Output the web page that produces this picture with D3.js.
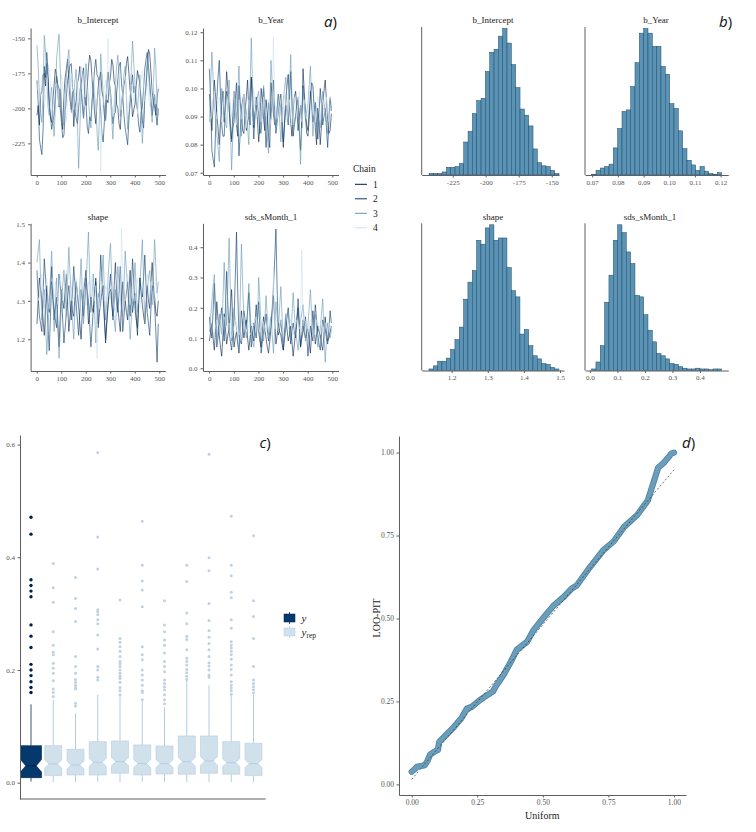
<!DOCTYPE html>
<html><head><meta charset="utf-8">
<script src="https://cdn.jsdelivr.net/npm/d3@7"></script>
<style>
body{margin:0;background:#fff}
svg text{font-family:"Liberation Serif","DejaVu Serif",serif}
</style></head>
<body><svg id="c" width="756" height="832"></svg>
<script>
// ---------------- DATA ----------------
const params = ["b_Intercept", "b_Year", "shape", "sds_sMonth_1"];
const chains = ["1", "2", "3", "4"];
const iterations = [1,6,11,16,21,26,31,36,41,46,51,56,61,66,71,76,81,86,91,96,
 101,106,111,116,121,126,131,136,141,146,151,156,161,166,171,176,181,186,191,196,
 201,206,211,216,221,226,231,236,241,246,251,256,261,266,271,276,281,286,291,296,
 301,306,311,316,321,326,331,336,341,346,351,356,361,366,371,376,381,386,391,396,
 401,406,411,416,421,426,431,436,441,446,451,456,461,466,471,476,481,486,491,496];
const iterTicks = [0, 100, 200, 300, 400, 500];

const traceIntercept = [
 [-205,-198,-212,-190,-188,-176,-175,-184,-168,-180,
  -195,-207,-210,-196,-183,-172,-176,-190,-199,-186,
  -204,-215,-190,-178,-172,-165,-180,-194,-201,-188,
  -213,-200,-194,-182,-178,-170,-186,-197,-207,-192,
  -198,-185,-171,-162,-166,-180,-189,-203,-211,-196,
  -185,-179,-174,-188,-192,-205,-208,-194,-196,-182,
  -177,-165,-169,-181,-184,-197,-200,-211,-215,-199,
  -191,-183,-179,-168,-163,-175,-187,-193,-206,-201,
  -197,-184,-173,-178,-182,-196,-209,-214,-193,-185,
  -170,-158,-161,-174,-188,-195,-199,-205,-192,-186],
 [-180,-196,-222,-228,-233,-215,-170,-178,-160,-172,
  -198,-205,-215,-209,-205,-190,-177,-183,-186,-200,
  -210,-221,-219,-204,-192,-180,-175,-169,-168,-185,
  -189,-202,-207,-211,-200,-188,-182,-176,-171,-190,
  -196,-213,-218,-206,-209,-194,-185,-172,-165,-176,
  -178,-192,-202,-218,-224,-210,-197,-183,-174,-181,
  -188,-199,-211,-204,-203,-189,-179,-170,-167,-182,
  -191,-205,-214,-220,-226,-208,-195,-184,-176,-189,
  -184,-195,-201,-212,-217,-203,-199,-185,-172,-165,
  -160,-170,-181,-193,-205,-198,-190,-203,-212,-200],
 [-155,-170,-192,-203,-210,-188,-148,-160,-176,-199,
  -205,-192,-185,-204,-220,-198,-165,-155,-147,-172,
  -199,-210,-212,-190,-178,-166,-158,-182,-203,-195,
  -190,-180,-172,-210,-243,-215,-186,-195,-207,-190,
  -168,-180,-195,-205,-214,-196,-180,-191,-200,-216,
  -230,-205,-161,-175,-189,-202,-209,-186,-174,-183,
  -194,-208,-222,-200,-183,-170,-162,-178,-206,-195,
  -188,-176,-170,-192,-215,-204,-197,-171,-152,-168,
  -184,-196,-201,-188,-176,-199,-225,-208,-193,-180,
  -166,-175,-187,-199,-210,-186,-157,-170,-198,-205],
 [-188,-182,-195,-190,-178,-185,-200,-193,-185,-176,
  -172,-181,-205,-198,-190,-184,-182,-191,-198,-187,
  -176,-183,-192,-200,-209,-195,-187,-179,-175,-186,
  -201,-194,-184,-179,-196,-190,-170,-178,-193,-199,
  -181,-188,-199,-192,-186,-175,-174,-185,-203,-196,
  -189,-180,-245,-200,-197,-186,-180,-190,-150,-178,
  -192,-199,-206,-194,-183,-178,-175,-185,-194,-201,
  -188,-180,-177,-190,-202,-195,-190,-183,-185,-195,
  -179,-186,-204,-196,-187,-180,-173,-184,-195,-190,
  -182,-189,-199,-192,-186,-181,-191,-197,-188,-183]
];
const traceYear = [
 [0.098,0.092,0.085,0.094,0.103,0.097,0.091,0.086,0.080,0.088,
  0.095,0.099,0.088,0.096,0.106,0.100,0.093,0.087,0.082,0.090,
  0.099,0.094,0.087,0.083,0.101,0.095,0.090,0.085,0.084,0.092,
  0.097,0.103,0.092,0.087,0.104,0.098,0.086,0.091,0.094,0.089,
  0.081,0.087,0.100,0.096,0.089,0.085,0.096,0.091,0.083,0.079,
  0.102,0.097,0.091,0.087,0.087,0.093,0.098,0.095,0.093,0.086,
  0.079,0.088,0.096,0.101,0.105,0.094,0.088,0.083,0.092,0.097,
  0.099,0.093,0.085,0.090,0.094,0.086,0.107,0.099,0.090,0.084,
  0.083,0.089,0.097,0.102,0.101,0.093,0.086,0.080,0.093,0.088,
  0.080,0.087,0.095,0.099,0.103,0.096,0.089,0.084,0.085,0.091],
 [0.107,0.096,0.078,0.075,0.072,0.085,0.096,0.104,0.110,0.098,
  0.087,0.083,0.083,0.092,0.099,0.097,0.094,0.085,0.081,0.086,
  0.088,0.096,0.102,0.090,0.076,0.084,0.093,0.096,0.098,0.091,
  0.085,0.088,0.090,0.098,0.104,0.093,0.082,0.090,0.097,0.094,
  0.091,0.084,0.086,0.095,0.100,0.088,0.079,0.087,0.095,0.092,
  0.089,0.097,0.103,0.092,0.084,0.088,0.092,0.095,0.098,0.090,
  0.081,0.087,0.094,0.091,0.087,0.096,0.106,0.095,0.083,0.087,
  0.090,0.094,0.096,0.085,0.078,0.089,0.101,0.096,0.092,0.087,
  0.085,0.092,0.099,0.094,0.088,0.091,0.095,0.087,0.082,0.091,
  0.100,0.094,0.087,0.090,0.093,0.086,0.079,0.088,0.096,0.092],
 [0.088,0.101,0.113,0.104,0.095,0.089,0.084,0.079,0.074,0.088,
  0.100,0.096,0.091,0.088,0.086,0.095,0.103,0.086,0.071,0.083,
  0.095,0.092,0.089,0.099,0.108,0.094,0.083,0.090,0.097,0.094,
  0.092,0.086,0.080,0.099,0.118,0.101,0.087,0.090,0.094,0.097,
  0.099,0.091,0.084,0.093,0.101,0.096,0.090,0.083,0.077,0.093,
  0.110,0.101,0.093,0.089,0.086,0.092,0.098,0.089,0.081,0.088,
  0.096,0.100,0.104,0.095,0.088,0.099,0.112,0.097,0.085,0.088,
  0.091,0.094,0.097,0.085,0.073,0.087,0.100,0.094,0.089,0.092,
  0.094,0.101,0.108,0.095,0.083,0.089,0.095,0.092,0.090,0.088,
  0.086,0.092,0.099,0.095,0.092,0.088,0.084,0.091,0.097,0.093],
 [0.093,0.089,0.090,0.096,0.099,0.092,0.089,0.094,0.097,0.091,
  0.088,0.093,0.097,0.091,0.087,0.093,0.098,0.094,0.090,0.095,
  0.099,0.093,0.087,0.090,0.096,0.092,0.089,0.094,0.098,0.092,
  0.086,0.091,0.096,0.093,0.090,0.095,0.100,0.094,0.089,0.091,
  0.095,0.093,0.088,0.092,0.097,0.094,0.090,0.093,0.096,0.091,
  0.087,0.092,0.118,0.096,0.091,0.089,0.094,0.097,0.092,0.088,
  0.093,0.098,0.094,0.089,0.092,0.096,0.090,0.087,0.093,0.097,
  0.093,0.090,0.095,0.099,0.093,0.088,0.092,0.096,0.091,0.089,
  0.094,0.098,0.093,0.090,0.095,0.092,0.088,0.093,0.097,0.092,
  0.089,0.094,0.096,0.091,0.093,0.097,0.092,0.088,0.093,0.095]
];
const traceShape = [
 [1.24,1.30,1.36,1.33,1.30,1.25,1.21,1.28,1.34,1.30,
  1.27,1.33,1.39,1.31,1.25,1.28,1.31,1.24,1.18,1.26,
  1.33,1.30,1.28,1.33,1.37,1.29,1.22,1.26,1.30,1.27,
  1.26,1.31,1.35,1.32,1.29,1.24,1.20,1.27,1.32,1.35,
  1.38,1.31,1.24,1.27,1.31,1.28,1.27,1.32,1.36,1.29,
  1.23,1.27,1.30,1.32,1.34,1.26,1.19,1.24,1.29,1.32,
  1.33,1.29,1.26,1.34,1.40,1.33,1.28,1.25,1.22,1.29,
  1.35,1.32,1.30,1.27,1.25,1.32,1.38,1.31,1.27,1.30,
  1.32,1.26,1.21,1.29,1.36,1.32,1.29,1.26,1.24,1.29,
  1.34,1.30,1.28,1.35,1.40,1.34,1.31,1.27,1.26,1.30],
 [1.38,1.31,1.26,1.24,1.22,1.32,1.41,1.36,1.30,1.23,
  1.17,1.26,1.35,1.31,1.28,1.25,1.23,1.30,1.37,1.34,
  1.31,1.25,1.19,1.23,1.27,1.31,1.34,1.29,1.25,1.32,
  1.39,1.34,1.29,1.25,1.21,1.27,1.33,1.30,1.26,1.31,
  1.36,1.33,1.30,1.24,1.18,1.23,1.28,1.32,1.35,1.29,
  1.24,1.33,1.42,1.36,1.31,1.25,1.20,1.25,1.29,1.33,
  1.37,1.31,1.25,1.29,1.33,1.30,1.27,1.33,1.39,1.31,
  1.22,1.26,1.30,1.32,1.35,1.31,1.26,1.33,1.41,1.35,
  1.28,1.25,1.23,1.30,1.36,1.33,1.31,1.36,1.42,1.34,
  1.27,1.24,1.21,1.28,1.34,1.31,1.29,1.22,1.14,1.24],
 [1.40,1.43,1.46,1.35,1.25,1.29,1.33,1.24,1.16,1.23,
  1.29,1.36,1.43,1.32,1.22,1.29,1.36,1.25,1.15,1.22,
  1.30,1.34,1.38,1.32,1.26,1.35,1.44,1.37,1.31,1.25,
  1.20,1.28,1.35,1.31,1.28,1.34,1.41,1.32,1.24,1.29,
  1.33,1.41,1.48,1.37,1.27,1.32,1.37,1.28,1.19,1.26,
  1.32,1.30,1.29,1.36,1.42,1.33,1.25,1.30,1.36,1.41,
  1.45,1.36,1.28,1.25,1.22,1.30,1.39,1.35,1.31,1.28,
  1.26,1.34,1.43,1.38,1.34,1.27,1.20,1.25,1.30,1.35,
  1.40,1.33,1.27,1.31,1.35,1.40,1.46,1.35,1.24,1.29,
  1.33,1.36,1.38,1.33,1.29,1.37,1.46,1.39,1.32,1.35],
 [1.33,1.30,1.31,1.35,1.37,1.32,1.29,1.33,1.36,1.31,
  1.28,1.31,1.33,1.36,1.30,1.35,1.32,1.29,1.34,1.37,
  1.33,1.30,1.32,1.35,1.38,1.33,1.29,1.31,1.34,1.30,
  1.31,1.35,1.36,1.32,1.31,1.28,1.32,1.36,1.34,1.30,
  1.29,1.33,1.35,1.31,1.33,1.37,1.32,1.30,1.34,1.15,
  1.31,1.28,1.32,1.35,1.33,1.30,1.34,1.33,1.36,1.31,
  1.32,1.34,1.30,1.28,1.33,1.37,1.34,1.31,1.29,1.49,
  1.36,1.32,1.30,1.34,1.37,1.33,1.29,1.31,1.35,1.32,
  1.30,1.34,1.36,1.31,1.28,1.32,1.35,1.33,1.30,1.34,
  1.37,1.33,1.31,1.35,1.32,1.29,1.33,1.36,1.32,1.30]
];
const traceSds = [
 [0.09,0.12,0.15,0.10,0.06,0.13,0.22,0.16,0.11,0.07,
  0.04,0.11,0.18,0.13,0.08,0.11,0.13,0.20,0.26,0.15,
  0.07,0.10,0.12,0.08,0.05,0.12,0.19,0.14,0.10,0.13,
  0.16,0.10,0.06,0.10,0.14,0.11,0.09,0.15,0.21,0.16,
  0.12,0.09,0.07,0.12,0.17,0.13,0.10,0.07,0.05,0.09,
  0.13,0.18,0.24,0.16,0.08,0.11,0.15,0.12,0.11,0.08,
  0.06,0.12,0.18,0.13,0.09,0.11,0.14,0.09,0.04,0.08,
  0.12,0.16,0.20,0.13,0.07,0.11,0.16,0.12,0.10,0.12,
  0.13,0.09,0.05,0.12,0.19,0.14,0.08,0.11,0.14,0.12,
  0.11,0.08,0.06,0.11,0.17,0.12,0.09,0.10,0.12,0.14],
 [0.17,0.13,0.10,0.19,0.28,0.17,0.07,0.10,0.14,0.17,
  0.20,0.14,0.09,0.20,0.32,0.21,0.12,0.09,0.06,0.11,
  0.16,0.30,0.45,0.25,0.11,0.09,0.08,0.13,0.19,0.16,
  0.13,0.19,0.25,0.16,0.07,0.11,0.15,0.12,0.10,0.16,
  0.22,0.13,0.05,0.09,0.12,0.15,0.18,0.13,0.09,0.12,
  0.14,0.20,0.27,0.36,0.46,0.26,0.11,0.13,0.16,0.11,
  0.06,0.10,0.13,0.17,0.20,0.14,0.08,0.12,0.15,0.12,
  0.10,0.16,0.23,0.15,0.07,0.10,0.12,0.14,0.17,0.11,
  0.04,0.09,0.14,0.11,0.09,0.15,0.21,0.16,0.11,0.08,
  0.06,0.11,0.16,0.14,0.13,0.10,0.08,0.13,0.19,0.15],
 [0.12,0.17,0.22,0.27,0.31,0.19,0.08,0.13,0.18,0.14,
  0.11,0.23,0.35,0.24,0.14,0.28,0.43,0.26,0.09,0.14,
  0.20,0.16,0.13,0.09,0.06,0.23,0.41,0.28,0.16,0.13,
  0.10,0.19,0.28,0.20,0.12,0.09,0.07,0.13,0.19,0.15,
  0.30,0.22,0.14,0.11,0.09,0.16,0.24,0.17,0.11,0.14,
  0.17,0.11,0.05,0.13,0.22,0.17,0.13,0.20,0.27,0.17,
  0.08,0.11,0.15,0.17,0.19,0.14,0.10,0.17,0.25,0.18,
  0.12,0.09,0.06,0.11,0.16,0.18,0.21,0.15,0.09,0.12,
  0.14,0.20,0.26,0.18,0.11,0.14,0.18,0.13,0.07,0.10,
  0.13,0.18,0.23,0.12,0.02,0.09,0.15,0.12,0.10,0.13],
 [0.13,0.14,0.15,0.12,0.11,0.14,0.16,0.15,0.14,0.12,
  0.11,0.13,0.17,0.15,0.13,0.14,0.15,0.12,0.10,0.12,
  0.14,0.16,0.15,0.13,0.11,0.12,0.16,0.18,0.16,0.14,
  0.12,0.15,0.13,0.11,0.12,0.15,0.14,0.16,0.17,0.14,
  0.13,0.12,0.14,0.16,0.15,0.13,0.12,0.14,0.17,0.15,
  0.13,0.11,0.33,0.13,0.16,0.15,0.12,0.14,0.16,0.14,
  0.12,0.15,0.18,0.16,0.13,0.14,0.16,0.13,0.11,0.13,
  0.14,0.16,0.14,0.13,0.15,0.39,0.14,0.17,0.15,0.13,
  0.12,0.14,0.16,0.15,0.13,0.11,0.14,0.16,0.15,0.13,
  0.14,0.16,0.13,0.12,0.15,0.14,0.12,0.15,0.14,0.13]
];
const traceYTicksIntercept = [-225, -200, -175, -150];
const traceYTicksYear = [0.07, 0.08, 0.09, 0.10, 0.11, 0.12];
const traceYTicksShape = [1.2, 1.3, 1.4, 1.5];
const traceYTicksSds = [0.0, 0.1, 0.2, 0.3, 0.4];
const ticksIntercept = [-225, -200, -175, -150];
const ticksYear = [0.07, 0.08, 0.09, 0.10, 0.11, 0.12];
const ticksShape = [1.2, 1.3, 1.4, 1.5];
const ticksSds = [0.0, 0.1, 0.2, 0.3, 0.4];

// histograms (30 bins over the given range)
const histInterceptRange = [-242.9, -144.5];
const histInterceptCounts = [2,2,2,4,10,10,11,15,43,57,80,97,100,135,160,164,181,191,172,144,114,86,78,64,34,16,12,11,6,2];
const histYearRange = [0.0698, 0.1204];
const histYearCounts = [1,6,9,11,14,35,60,82,84,114,145,183,189,183,166,166,140,130,92,86,57,34,19,13,6,11,5,2,1,3];
const histShapeRange = [1.137, 1.497];
const histShapeCounts = [2,6,12,12,16,27,40,56,92,114,129,168,163,184,188,168,171,171,133,103,95,47,53,32,19,15,9,8,4,2];
const histSdsRange = [0.006, 0.479];
const histSdsCounts = [2,11,32,88,123,168,188,178,153,138,97,95,72,52,37,22,19,15,9,8,5,3,2,2,3,2,2,1,2,2];

// posterior predictive boxplots
const boxLabels = ["y","yrep1","yrep2","yrep3","yrep4","yrep5","yrep6","yrep7","yrep8","yrep9","yrep10"];
const boxWhiskLo = [0.002,0.001,0.001,0.001,0.001,0.001,0.001,0.001,0.001,0.001,0.001];
const boxQ1 = [0.0089,0.0125,0.0137,0.0137,0.0166,0.0137,0.0154,0.0149,0.0166,0.0149,0.0125];
const boxMedian = [0.030,0.0332,0.0314,0.0361,0.0373,0.0338,0.0338,0.0373,0.0385,0.0355,0.0338];
const boxQ3 = [0.0657,0.0657,0.0592,0.0728,0.0740,0.0669,0.0651,0.0829,0.0829,0.0728,0.0699];
const boxWhiskHi = [0.139,0.147,0.123,0.156,0.153,0.144,0.134,0.182,0.173,0.155,0.156];
const boxNotch = [0.011,0.007,0.007,0.007,0.007,0.007,0.007,0.008,0.008,0.007,0.007];
const boxOutliers = [
 [0.471,0.441,0.360,0.350,0.340,0.330,0.280,0.260,0.240,0.210,0.200,0.190,0.179,0.169,0.160],
 [0.389,0.346,0.320,0.268,0.244,0.232,0.227,0.212,0.203,0.194,0.181,0.166,0.160,0.153],
 [0.364,0.327,0.309,0.286,0.224,0.206,0.194,0.183,0.178,0.173,0.169,0.166,0.141,0.136],
 [0.586,0.436,0.379,0.307,0.303,0.298,0.289,0.282,0.262,0.237,0.206,0.200,0.187,0.182],
 [0.324,0.256,0.249,0.241,0.233,0.224,0.215,0.211,0.206,0.200,0.194,0.189,0.185,0.178,0.169,0.163,0.156],
 [0.464,0.386,0.358,0.342,0.312,0.241,0.227,0.218,0.200,0.191,0.182,0.173,0.163,0.160,0.147],
 [0.323,0.280,0.268,0.253,0.244,0.230,0.215,0.206,0.197,0.182,0.176,0.170,0.165,0.156,0.147,0.140],
 [0.386,0.357,0.301,0.282,0.260,0.254,0.236,0.221,0.215,0.209,0.201,0.195,0.189,0.183],
 [0.583,0.399,0.376,0.318,0.288,0.270,0.258,0.247,0.236,0.224,0.213,0.207,0.200,0.191,0.187],
 [0.473,0.386,0.367,0.338,0.328,0.289,0.274,0.250,0.244,0.239,0.233,0.227,0.219,0.209,0.201,0.191,0.179,0.173,0.168,0.163,0.157],
 [0.438,0.323,0.295,0.256,0.206,0.182,0.176,0.170,0.165,0.159]
];
const boxYTicks = [0.0, 0.2, 0.4, 0.6];

// LOO-PIT QQ
const pitUniform = [0,0.01,0.02,0.04,0.05,0.06,0.07,0.09,0.10,0.105,0.13,0.16,0.19,0.21,0.23,0.26,0.29,0.31,0.32,0.35,0.375,0.40,0.44,0.465,0.50,0.54,0.58,0.61,0.63,0.68,0.73,0.77,0.81,0.86,0.90,0.915,0.93,0.94,0.96,0.978,0.99,1.0];
const pitValue = [0.038,0.045,0.053,0.056,0.058,0.070,0.090,0.100,0.104,0.128,0.148,0.172,0.200,0.228,0.234,0.254,0.270,0.280,0.295,0.330,0.365,0.405,0.430,0.465,0.500,0.538,0.565,0.590,0.600,0.655,0.705,0.732,0.776,0.812,0.855,0.892,0.930,0.955,0.968,0.985,0.997,1.000];
const pitRefX = [0, 1];
const pitRefY = [0.015, 0.948];
const pitTicks = [0, 0.25, 0.5, 0.75, 1.0];

// ---------------- STYLE ----------------
const chainColors = ["#011f4b", "#03396c", "#6497b1", "#d1e1ec"];
const AXC = "#5f5f5f", TXC = "#555";
const svg = d3.select("#c");

function styleAxis(g, fs) {
  g.selectAll(".domain").attr("stroke", AXC).attr("stroke-width", 1);
  g.selectAll(".tick line").attr("stroke", AXC);
  g.selectAll(".tick text").attr("fill", TXC).style("font-size", fs + "px")
    .style("font-family", '"Liberation Serif",serif');
}
const fmtMinus = d => String(d);

// ---------------- PANEL A: traces ----------------
const traceData = [traceIntercept, traceYear, traceShape, traceSds];
const traceYTicks = [traceYTicksIntercept, traceYTicksYear, traceYTicksShape, traceYTicksSds];
const traceFmt = [fmtMinus, d3.format(".2f"), d3.format(".1f"), d3.format(".1f")];
const traceLayout = [
  {x0: 30.6, x1: 165.4, yT: 28, yB: 175, dom: [-247.6, -142.6], tx: 98, ty: 23},
  {x0: 203.0, x1: 338.5, yT: 28, yB: 175, dom: [0.0692, 0.1215], tx: 271, ty: 23},
  {x0: 30.6, x1: 165.4, yT: 223.3, yB: 371, dom: [1.117, 1.5026], tx: 98, ty: 219.5},
  {x0: 203.0, x1: 338.5, yT: 223.3, yB: 371, dom: [-0.0089, 0.479], tx: 271, ty: 219.5}
];
traceLayout.forEach((L, p) => {
  const x = d3.scaleLinear().domain([-25, 525]).range([L.x0, L.x1]);
  const y = d3.scaleLinear().domain(L.dom).range([L.yB, L.yT]);
  const g = svg.append("g");
  const line = d3.line().x((d, i) => x(iterations[i])).y(d => y(d));
  traceData[p].forEach((vals, c) => {
    g.append("path").datum(vals).attr("d", line).attr("fill", "none")
      .attr("stroke", chainColors[c]).attr("stroke-width", 0.6);
  });
  const ax = g.append("g").attr("transform", `translate(0,${L.yB})`)
    .call(d3.axisBottom(x).tickValues(iterTicks).tickSize(2.5).tickSizeOuter(0).tickPadding(2.5));
  styleAxis(ax, 7);
  const ay = g.append("g").attr("transform", `translate(${L.x0},0)`)
    .call(d3.axisLeft(y).tickValues(traceYTicks[p]).tickFormat(traceFmt[p]).tickSize(2.5).tickSizeOuter(0).tickPadding(3));
  styleAxis(ay, 7);
  g.append("text").attr("x", L.tx).attr("y", L.ty).attr("text-anchor", "middle")
    .attr("fill", "#222").style("font-size", "9px").text(params[p]);
});
// chain legend
const leg = svg.append("g");
leg.append("text").attr("x", 353).attr("y", 172).attr("fill", "#222").style("font-size", "9.5px").text("Chain");
chains.forEach((c, i) => {
  const yy = 184.3 + i * 14.5;
  leg.append("line").attr("x1", 355).attr("x2", 367).attr("y1", yy).attr("y2", yy)
    .attr("stroke", chainColors[i]).attr("stroke-width", 1);
  leg.append("text").attr("x", 373).attr("y", yy + 3.5).attr("fill", "#222").style("font-size", "9.5px").text(c);
});

// ---------------- PANEL B: histograms ----------------
const histData = [
  {range: histInterceptRange, counts: histInterceptCounts, ticks: ticksIntercept, fmt: fmtMinus},
  {range: histYearRange, counts: histYearCounts, ticks: ticksYear, fmt: d3.format(".2f")},
  {range: histShapeRange, counts: histShapeCounts, ticks: ticksShape, fmt: d3.format(".1f")},
  {range: histSdsRange, counts: histSdsCounts, ticks: ticksSds, fmt: d3.format(".1f")}
];
const histLayout = [
  {x0: 421.7, x1: 559, dom: [-248.5, -144.5], yT: 27, yB: 175, tx: 493, ty: 23},
  {x0: 585, x1: 728.3, dom: [0.0672, 0.123], yT: 27, yB: 175, tx: 656, ty: 23},
  {x0: 421.7, x1: 564, dom: [1.117, 1.511], yT: 223.3, yB: 370.5, tx: 493, ty: 219.5},
  {x0: 585, x1: 728.3, dom: [-0.018, 0.503], yT: 223.3, yB: 370.5, tx: 650, ty: 219.5}
];
histData.forEach((H, p) => {
  const L = histLayout[p];
  const x = d3.scaleLinear().domain(L.dom).range([L.x0, L.x1]);
  const y = d3.scaleLinear().domain([0, d3.max(H.counts)]).range([L.yB, L.yT + 1.5]);
  const n = H.counts.length, w = (H.range[1] - H.range[0]) / n;
  const g = svg.append("g");
  g.selectAll("rect").data(H.counts).join("rect")
    .attr("x", (d, i) => x(H.range[0] + i * w))
    .attr("width", (d, i) => x(H.range[0] + (i + 1) * w) - x(H.range[0] + i * w))
    .attr("y", d => y(d)).attr("height", d => L.yB - y(d))
    .attr("fill", "#5b93b5").attr("stroke", "#1e4a6a").attr("stroke-width", 0.5);
  const ax = g.append("g").attr("transform", `translate(0,${L.yB})`)
    .call(d3.axisBottom(x).tickValues(H.ticks).tickFormat(H.fmt).tickSize(2.5).tickSizeOuter(0).tickPadding(2.5));
  styleAxis(ax, 7);
  g.append("line").attr("x1", L.x0).attr("x2", L.x0).attr("y1", L.yT).attr("y2", L.yB)
    .attr("stroke", AXC).attr("stroke-width", 1);
  g.append("text").attr("x", L.tx).attr("y", L.ty).attr("text-anchor", "middle")
    .attr("fill", "#222").style("font-size", "9px").text(params[p]);
});

// ---------------- PANEL C: boxplots ----------------
{
  const x = d3.scalePoint().domain(boxLabels).range([31, 253.5]);
  const y = d3.scaleLinear().domain([-0.029, 0.617]).range([799, 435]);
  const g = svg.append("g");
  boxLabels.forEach((lab, i) => {
    const isY = i === 0;
    const cx = x(lab), bw = isY ? 21 : 17;
    const x0 = cx - bw / 2, x1 = cx + bw / 2, ind = bw / 4;
    const fill = isY ? "#03396c" : "#d1e1ec";
    const stroke = isY ? "#011f4b" : "#b3cde0";
    const wcol = isY ? "#44566e" : "#b3cde0";
    g.append("line").attr("x1", cx).attr("x2", cx).attr("y1", y(boxQ3[i])).attr("y2", y(boxWhiskHi[i]))
      .attr("stroke", wcol).attr("stroke-width", 1);
    g.append("line").attr("x1", cx).attr("x2", cx).attr("y1", y(boxQ1[i])).attr("y2", y(boxWhiskLo[i]))
      .attr("stroke", wcol).attr("stroke-width", 1);
    const nu = y(boxMedian[i] + boxNotch[i]), nl = y(boxMedian[i] - boxNotch[i]), m = y(boxMedian[i]);
    const pts = [[x0, y(boxQ3[i])], [x0, nu], [x0 + ind, m], [x0, nl], [x0, y(boxQ1[i])],
                 [x1, y(boxQ1[i])], [x1, nl], [x1 - ind, m], [x1, nu], [x1, y(boxQ3[i])]];
    g.append("path").attr("d", d3.line()(pts) + "Z").attr("fill", fill).attr("stroke", stroke).attr("stroke-width", 0.6);
    g.append("line").attr("x1", x0 + ind).attr("x2", x1 - ind).attr("y1", m).attr("y2", m)
      .attr("stroke", stroke).attr("stroke-width", 1);
    g.selectAll(null).data(boxOutliers[i]).join("circle")
      .attr("cx", cx).attr("cy", d => y(d)).attr("r", isY ? 1.7 : 1.5)
      .attr("fill", isY ? "#011f4b" : "#bdd2e2");
  });
  const ay = g.append("g").attr("transform", "translate(20,0)")
    .call(d3.axisLeft(y).tickValues(boxYTicks).tickFormat(d3.format(".1f")).tickSize(2.5).tickSizeOuter(0).tickPadding(2.5));
  styleAxis(ay, 7);
  g.append("line").attr("x1", 20).attr("x2", 265.7).attr("y1", 799).attr("y2", 799).attr("stroke", AXC).attr("stroke-width", 1);
  // legend
  const keys = [{f: "#03396c", s: "#011f4b", y: 618}, {f: "#d1e1ec", s: "#b3cde0", y: 632}];
  keys.forEach(k => {
    g.append("line").attr("x1", 289.5).attr("x2", 289.5).attr("y1", k.y - 6).attr("y2", k.y + 6).attr("stroke", k.s).attr("stroke-width", 0.8);
    g.append("rect").attr("x", 284).attr("y", k.y - 4).attr("width", 11).attr("height", 8).attr("fill", k.f).attr("stroke", k.s).attr("stroke-width", 0.5);
  });
  g.append("text").attr("x", 301.5).attr("y", 621.5).attr("fill", "#222").style("font-size", "11px").style("font-style", "italic").text("y");
  const t2 = g.append("text").attr("x", 301.5).attr("y", 635.5).attr("fill", "#222").style("font-size", "11px");
  t2.append("tspan").style("font-style", "italic").text("y");
  t2.append("tspan").attr("dy", 2).style("font-size", "7.5px").text("rep");
}

// ---------------- PANEL D: LOO-PIT ----------------
{
  const x = d3.scaleLinear().domain([-0.0484, 1.046]).range([399, 686]);
  const y = d3.scaleLinear().domain([-0.032, 1.05]).range([795, 436]);
  const g = svg.append("g");
  const ln = d3.line().x((d, i) => x(pitUniform[i])).y(d => y(d)).curve(d3.curveLinear);
  g.append("path").datum(pitValue).attr("d", ln).attr("fill", "none").attr("stroke", "#4f84a3")
    .attr("stroke-width", 6.2).attr("stroke-linecap", "round").attr("stroke-linejoin", "round");
  g.append("path").datum(pitValue).attr("d", ln).attr("fill", "none").attr("stroke", "#6a9ebb")
    .attr("stroke-width", 4.4).attr("stroke-linecap", "round").attr("stroke-linejoin", "round");
  g.selectAll("circle").data(pitValue).join("circle")
    .attr("cx", (d, i) => x(pitUniform[i])).attr("cy", d => y(d)).attr("r", 2.2).attr("fill", "#6a9ebb");
  g.append("line").attr("x1", x(pitRefX[0])).attr("x2", x(pitRefX[1])).attr("y1", y(pitRefY[0])).attr("y2", y(pitRefY[1]))
    .attr("stroke", "#333").attr("stroke-width", 0.7).attr("stroke-dasharray", "2,2");
  const ax = g.append("g").attr("transform", "translate(0,795)")
    .call(d3.axisBottom(x).tickValues(pitTicks).tickFormat(d3.format(".2f")).tickSize(2.5).tickSizeOuter(0).tickPadding(2.5));
  styleAxis(ax, 7.5);
  const ay = g.append("g").attr("transform", "translate(399,0)")
    .call(d3.axisLeft(y).tickValues(pitTicks).tickFormat(d3.format(".2f")).tickSize(2.5).tickSizeOuter(0).tickPadding(2.5));
  styleAxis(ay, 7.5);
  g.append("text").attr("x", 542.3).attr("y", 819).attr("text-anchor", "middle").attr("fill", "#222").style("font-size", "10px").text("Uniform");
  g.append("text").attr("transform", "translate(380,618) rotate(-90)").attr("text-anchor", "middle").attr("fill", "#222").style("font-size", "10px").text("LOO-PIT");
}

// ---------------- panel letters ----------------
[["a", 324, 26.5], ["b", 719, 26.5], ["c", 259.5, 447.5], ["d", 682, 447.5]].forEach(([l, xx, yy]) => {
  const t = svg.append("text").attr("x", xx).attr("y", yy).attr("fill", "#111")
    .style("font-family", '"Open Sans","Liberation Sans",sans-serif').style("font-size", "15px");
  t.append("tspan").style("font-style", "italic").text(l);
  t.append("tspan").text(")");
});
</script></body></html>
